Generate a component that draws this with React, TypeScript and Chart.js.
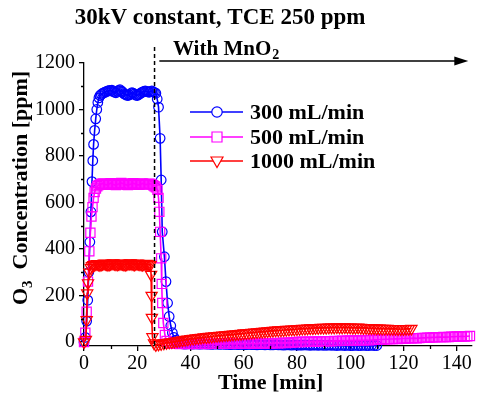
import React, { useEffect, useRef } from "react";
import { Chart, registerables } from "chart.js";

Chart.register(...registerables);

const SERIF = '"Liberation Serif", "Times New Roman", serif';

// ---------- texts ----------
const TITLE = "30kV constant, TCE 250 ppm";
const X_TITLE = "Time [min]";
const Y_TITLE_MAIN = "O";
const Y_TITLE_SUB = "3";
const Y_TITLE_REST = "  Concentration [ppm]";
const NOTE_MAIN = "With MnO";
const NOTE_SUB = "2";
const SERIES_LABELS = ["300 mL/min", "500 mL/min", "1000 mL/min"];
const SERIES_COLORS = ["#0000ff", "#ff00ff", "#ff0000"];

// ---------- axes ----------
const X_TICKS = [0, 20, 40, 60, 80, 100, 120, 140];
const X_MINOR = [10, 30, 50, 70, 90, 110, 130];
const Y_TICKS = [0, 200, 400, 600, 800, 1000, 1200];
const Y_MINOR = [100, 300, 500, 700, 900, 1100];
const MNO2_START = 26.5; // min, dashed line
const ARROW_START = 28.3; // min

// ---------- 300 mL/min ----------
const blueT = [
  0, 0.5, 1, 1.4, 1.8, 2.2, 2.6, 3, 3.3, 3.6, 4, 4.4, 4.8, 5.2, 5.6, 6,
  6.5, 7, 7.5, 8, 8.5, 9, 9.5, 10, 10.5, 11, 11.5, 12, 12.5, 13, 13.5, 14, 14.5, 15, 15.5, 16, 16.5,
  17, 17.5, 18, 18.5, 19, 19.5, 20, 20.5, 21, 21.5, 22, 22.5, 23, 23.5, 24, 24.5, 25, 25.5, 26, 26.5, 27,
  27.5, 28, 28.6, 29, 29.4, 30.2, 30.8, 31.4, 32, 32.6, 33.2, 33.8, 34.4, 35, 36,
  37, 38, 39, 40, 41, 42, 43, 44, 45, 46, 47, 48, 49, 50,
  51, 52, 53, 54, 55, 56, 57, 58, 59, 60, 61, 62, 63, 64, 65, 66, 67, 68, 69, 70, 71, 72, 73, 74, 75, 76, 77, 78, 79, 80,
  81, 82, 83, 84, 85, 86, 87, 88, 89, 90, 91, 92, 93, 94, 95, 96, 97, 98, 99, 100, 101, 102, 103, 104, 105, 106, 107, 108, 109, 110,
];
const blueV = [
  0, 20, 90, 180, 300, 430, 560, 690, 780, 850, 910, 960, 1000, 1030, 1050, 1060,
  1065, 1070, 1072, 1075, 1078, 1080, 1082, 1080, 1083, 1078, 1075, 1072, 1078, 1082, 1085, 1080, 1075, 1068, 1065, 1062, 1060,
  1063, 1068, 1072, 1070, 1066, 1062, 1060, 1064, 1068, 1072, 1075, 1078, 1080, 1078, 1076, 1074, 1078, 1080, 1076, 1073, 1070,
  1045, 1010, 876, 697, 474, 367, 260, 168, 110, 70, 40, 20, 8, 0, -5,
  -8, -9, -8, -8, -9, -8, -9, -9, -8, -9, -9, -10, -9, -9,
  -10, -9, -10, -10, -11, -10, -10, -11, -10, -11, -11, -10, -11, -11, -12, -11, -11, -12, -11, -12, -12, -11, -12, -12, -13, -12, -12, -13, -12, -13,
  -13, -13, -12, -13, -14, -13, -13, -14, -13, -14, -14, -13, -14, -14, -15, -14, -14, -15, -14, -15, -15, -14, -15, -15, -14, -15, -15, -14, -15, -15,
];

// ---------- 500 mL/min ----------
const magT = [
  0, 0.5, 1, 1.5, 2, 2.4, 2.8, 3.2, 3.6, 4, 4.5, 5, 5.5,
  6, 6.5, 7, 7.5, 8, 8.5, 9, 9.5, 10, 10.5, 11, 11.5, 12, 12.5, 13, 13.5, 14, 14.5, 15, 15.5, 16, 16.5,
  17, 17.5, 18, 18.5, 19, 19.5, 20, 20.5, 21, 21.5, 22, 22.5, 23, 23.5, 24, 24.5, 25, 25.5, 26, 26.5, 27,
  27.6, 28, 28.3, 28.6, 29, 29.2, 29.4, 29.8, 30.4, 31, 32,
  33, 34, 35, 36, 37, 38, 39, 40, 41, 42, 43, 44, 45, 46, 47, 48, 49, 50,
  51, 52, 53, 54, 55, 56, 57, 58, 59, 60, 61, 62, 63, 64, 65, 66, 67, 68, 69, 70, 71, 72, 73, 74, 75, 76, 77, 78, 79, 80,
  81, 82, 83, 84, 85, 86, 87, 88, 89, 90, 91, 92, 93, 94, 95, 96, 97, 98, 99, 100, 101, 102, 103, 104, 105, 106, 107, 108, 109, 110,
  111, 112, 113, 114, 115, 116, 117, 118, 119, 120, 121, 122, 123, 124, 125, 126, 127, 128, 129, 130,
  131, 132, 133, 134, 135, 136, 137, 138, 139, 140, 141, 142, 143, 144, 145,
];
const magV = [
  0, 40, 130, 260, 390, 470, 540, 580, 620, 645, 660, 670, 675,
  678, 680, 682, 680, 678, 676, 678, 680, 683, 681, 678, 676, 675, 678, 680, 682, 684, 682, 680, 678, 676,
  675, 677, 679, 681, 683, 681, 679, 677, 676, 678, 680, 682, 680, 678, 677, 679, 681, 680, 678, 674, 670, 665,
  655, 620, 560, 474, 360, 250, 168, 82, 30, 5, -5,
  -7, -8, -8, -9, -8, -8, -9, -8, -8, -9, -8, -8, -8, -9, -8, -8, -7, -8,
  -8, -7, -8, -7, -7, -8, -7, -7, -6, -7, -7, -6, -6, -7, -6, -5, -6, -5, -5, -6, -5, -4, -5, -4, -3, -4, -3, -2, -1, 0,
  0, 1, 0, 1, 2, 1, 2, 3, 2, 3, 4, 3, 4, 5, 4, 5, 6, 5, 6, 7, 6, 7, 8, 7, 8, 9, 8, 9, 10, 10,
  11, 11, 12, 12, 13, 13, 14, 13, 14, 15, 15, 16, 16, 17, 16, 17, 18, 18, 19, 19,
  20, 20, 21, 21, 22, 21, 22, 23, 23, 24, 24, 25, 24, 25, 26,
];

// ---------- 1000 mL/min ----------
const redT = [
  0, 0.7, 1, 1.2, 1.5, 2, 2.5, 3, 3.5,
  4, 4.5, 5, 5.5, 6, 6.5, 7, 7.5, 8, 8.5, 9, 9.5, 10, 10.5, 11, 11.5, 12, 12.5, 13, 13.5, 14, 14.5,
  15, 15.5, 16, 16.5, 17, 17.5, 18, 18.5, 19, 19.5, 20, 20.5, 21, 21.5, 22, 22.5, 23, 23.5, 24, 24.5, 25,
  25.2, 25.4, 25.5, 25.7, 26.3, 27, 28, 29, 30,
  31, 32, 33, 34, 35, 36, 37, 38, 39, 40,
  41, 42, 43, 44, 45, 46, 47, 48, 49, 50, 51, 52, 53, 54, 55, 56, 57, 58, 59, 60,
  61, 62, 63, 64, 65, 66, 67, 68, 69, 70, 71, 72, 73, 74, 75, 76, 77, 78, 79, 80, 81, 82, 83, 84, 85, 86, 87, 88, 89, 90,
  91, 92, 93, 94, 95, 96, 97, 98, 99, 100, 101, 102, 103, 104, 105, 106, 107, 108, 109, 110,
  111, 112, 113, 114, 115, 116, 117, 118, 119, 120, 121, 122, 123,
];
const redV = [
  0, 10, 95, 210, 254, 300, 320, 328, 332,
  333, 335, 336, 334, 332, 334, 336, 338, 337, 335, 333, 334, 336, 338, 339, 337, 335, 334, 336, 337, 338, 336,
  334, 333, 335, 337, 338, 339, 337, 335, 334, 336, 338, 337, 335, 334, 333, 335, 336, 337, 335, 333, 332,
  290, 200, 105, 22, -5, -12, -10, -8, -5,
  -3, -1, 0, 2, 4, 6, 8, 10, 12, 14,
  15, 17, 18, 19, 21, 22, 23, 24, 26, 27, 28, 29, 30, 31, 32, 33, 34, 35, 36, 38,
  39, 40, 41, 42, 43, 44, 45, 46, 47, 48, 49, 50, 51, 51, 52, 53, 54, 55, 55, 56, 57, 58, 58, 59, 60, 60, 61, 61, 62, 62,
  62, 63, 63, 63, 64, 63, 63, 64, 63, 63, 62, 62, 63, 62, 61, 61, 60, 60, 60, 59,
  59, 58, 58, 58, 57, 57, 57, 56, 56, 56, 57, 57, 58,
];

const zip = (t: number[], v: number[]) => {
  const n = Math.min(t.length, v.length);
  const out: { x: number; y: number }[] = [];
  for (let i = 0; i < n; i++) out.push({ x: t[i], y: v[i] });
  return out;
};

const overlayPlugin = {
  id: "overlay",
  afterDraw(chart: any) {
    const ctx: CanvasRenderingContext2D = chart.ctx;
    const { left, right, bottom } = chart.chartArea;
    const xs = chart.scales.x;
    const ys = chart.scales.y;
    ctx.save();

    // minor ticks
    ctx.strokeStyle = "#000";
    ctx.lineWidth = 1.3;
    ctx.beginPath();
    for (const v of Y_MINOR) {
      const py = Math.round(ys.getPixelForValue(v)) + 0.5;
      ctx.moveTo(left - 3, py);
      ctx.lineTo(left, py);
    }
    for (const v of X_MINOR) {
      const px = Math.round(xs.getPixelForValue(v)) + 0.5;
      ctx.moveTo(px, bottom);
      ctx.lineTo(px, bottom + 3);
    }
    ctx.stroke();

    // dashed line (MnO2 start)
    const dx = xs.getPixelForValue(MNO2_START);
    ctx.setLineDash([4, 3]);
    ctx.lineWidth = 1.5;
    ctx.beginPath();
    ctx.moveTo(dx, 47);
    ctx.lineTo(dx, bottom);
    ctx.stroke();
    ctx.setLineDash([]);

    // arrow
    const ax = xs.getPixelForValue(ARROW_START);
    const ay = 61;
    ctx.lineWidth = 1.5;
    ctx.beginPath();
    ctx.moveTo(ax, ay);
    ctx.lineTo(right - 10, ay);
    ctx.stroke();
    ctx.fillStyle = "#000";
    ctx.beginPath();
    ctx.moveTo(right - 3, ay);
    ctx.lineTo(right - 17, ay - 4.5);
    ctx.lineTo(right - 17, ay + 4.5);
    ctx.closePath();
    ctx.fill();

    // title
    ctx.fillStyle = "#000";
    ctx.font = `bold 23px ${SERIF}`;
    ctx.textAlign = "center";
    ctx.textBaseline = "alphabetic";
    ctx.fillText(TITLE, 220, 24);

    // note "With MnO2"
    ctx.textAlign = "left";
    ctx.font = `bold 21px ${SERIF}`;
    const nx = 173;
    ctx.fillText(NOTE_MAIN, nx, 55);
    const nw = ctx.measureText(NOTE_MAIN).width;
    ctx.font = `bold 14px ${SERIF}`;
    ctx.fillText(NOTE_SUB, nx + nw + 1, 59);

    // x title
    ctx.font = `bold 22px ${SERIF}`;
    ctx.textAlign = "center";
    ctx.fillText(X_TITLE, (left + right) / 2 - 7, 389);

    // y title (rotated)
    ctx.save();
    ctx.translate(27, 188);
    ctx.rotate(-Math.PI / 2);
    ctx.font = `bold 22px ${SERIF}`;
    const w1 = ctx.measureText(Y_TITLE_MAIN).width;
    const w3 = ctx.measureText(Y_TITLE_REST).width;
    ctx.font = `bold 15px ${SERIF}`;
    const w2 = ctx.measureText(Y_TITLE_SUB).width;
    const total = w1 + w2 + w3;
    let cx = -total / 2;
    ctx.textAlign = "left";
    ctx.font = `bold 22px ${SERIF}`;
    ctx.fillText(Y_TITLE_MAIN, cx, 0);
    cx += w1;
    ctx.font = `bold 15px ${SERIF}`;
    ctx.fillText(Y_TITLE_SUB, cx, 5);
    cx += w2;
    ctx.font = `bold 22px ${SERIF}`;
    ctx.fillText(Y_TITLE_REST, cx, 0);
    ctx.restore();

    // legend
    const rows = [112, 137, 161];
    for (let i = 0; i < 3; i++) {
      const y = rows[i];
      const c = SERIES_COLORS[i];
      ctx.strokeStyle = c;
      ctx.lineWidth = 1.5;
      ctx.beginPath();
      ctx.moveTo(190, y);
      ctx.lineTo(243, y);
      ctx.stroke();
      ctx.fillStyle = "#fff";
      ctx.lineWidth = 1.2;
      ctx.beginPath();
      const mx = 217;
      if (i === 0) {
        ctx.arc(mx, y, 5.2, 0, Math.PI * 2);
      } else if (i === 1) {
        ctx.rect(mx - 5, y - 5, 10, 10);
      } else {
        ctx.moveTo(mx - 6, y - 4);
        ctx.lineTo(mx + 6, y - 4);
        ctx.lineTo(mx, y + 6.5);
        ctx.closePath();
      }
      ctx.fill();
      ctx.stroke();
      ctx.fillStyle = "#000";
      ctx.font = `bold 22px ${SERIF}`;
      ctx.textAlign = "left";
      ctx.textBaseline = "middle";
      ctx.fillText(SERIES_LABELS[i], 250, y + 1);
      ctx.textBaseline = "alphabetic";
    }

    ctx.restore();
  },
};

export default function App() {
  const ref = useRef<HTMLCanvasElement | null>(null);

  useEffect(() => {
    if (!ref.current) return;
    const mk = (
      i: number,
      t: number[],
      v: number[],
      pointStyle: string,
      radius: number,
      rotation: number,
      order: number
    ) => ({
      label: SERIES_LABELS[i],
      data: zip(t, v),
      borderColor: SERIES_COLORS[i],
      backgroundColor: "rgba(0,0,0,0)",
      borderWidth: 1.6,
      pointStyle,
      pointRadius: radius,
      pointRotation: rotation,
      pointBorderWidth: 1.2,
      pointBorderColor: SERIES_COLORS[i],
      pointBackgroundColor: "rgba(0,0,0,0)",
      showLine: true,
      tension: 0,
      clip: false as any,
      order,
    });

    const tickFont = { family: SERIF, size: 20 };

    const chart = new Chart(ref.current, {
      type: "line",
      data: {
        datasets: [
          mk(0, blueT, blueV, "circle", 4.8, 0, 3),
          mk(1, magT, magV, "rect", 6.5, 0, 2),
          mk(2, redT, redV, "triangle", 6.5, 180, 1),
        ] as any,
      },
      options: {
        animation: false,
        responsive: false,
        devicePixelRatio: 1,
        events: [],
        layout: { padding: { top: 63, right: 0, bottom: 0, left: 0 } },
        plugins: {
          legend: { display: false },
          tooltip: { enabled: false },
          title: { display: false },
        },
        scales: {
          x: {
            type: "linear",
            min: 0,
            max: 145.5,
            afterBuildTicks: (s: any) => {
              s.ticks = X_TICKS.map((value) => ({ value }));
            },
            afterFit: (s: any) => {
              s.height = 50;
              s.paddingLeft = 0;
              s.paddingRight = 0;
            },
            grid: {
              display: true,
              drawOnChartArea: false,
              drawTicks: true,
              tickLength: 5,
              color: "#000",
              lineWidth: 1.3,
            },
            border: { display: true, color: "#000", width: 1.3 },
            ticks: {
              font: tickFont,
              color: "#000",
              padding: 1,
              maxRotation: 0,
              autoSkip: false,
              callback: (v: any) => String(v),
            },
          },
          y: {
            type: "linear",
            min: -17,
            max: 1200,
            afterBuildTicks: (s: any) => {
              s.ticks = Y_TICKS.map((value) => ({ value }));
            },
            afterFit: (s: any) => {
              s.width = 84;
              s.paddingTop = 0;
              s.paddingBottom = 0;
            },
            grid: {
              display: true,
              drawOnChartArea: false,
              drawTicks: true,
              tickLength: 5,
              color: "#000",
              lineWidth: 1.3,
            },
            border: { display: true, color: "#000", width: 1.3 },
            ticks: {
              font: tickFont,
              color: "#000",
              padding: 4,
              autoSkip: false,
              callback: (v: any) => String(v),
            },
          },
        },
      } as any,
      plugins: [overlayPlugin],
    });
    return () => chart.destroy();
  }, []);

  return (
    <div
      style={{
        position: "fixed",
        left: 0,
        top: 0,
        width: 479,
        height: 396,
        background: "#fff",
      }}
    >
      <canvas
        ref={ref}
        width={479}
        height={396}
        style={{ display: "block", width: 479, height: 396 }}
      />
    </div>
  );
}
